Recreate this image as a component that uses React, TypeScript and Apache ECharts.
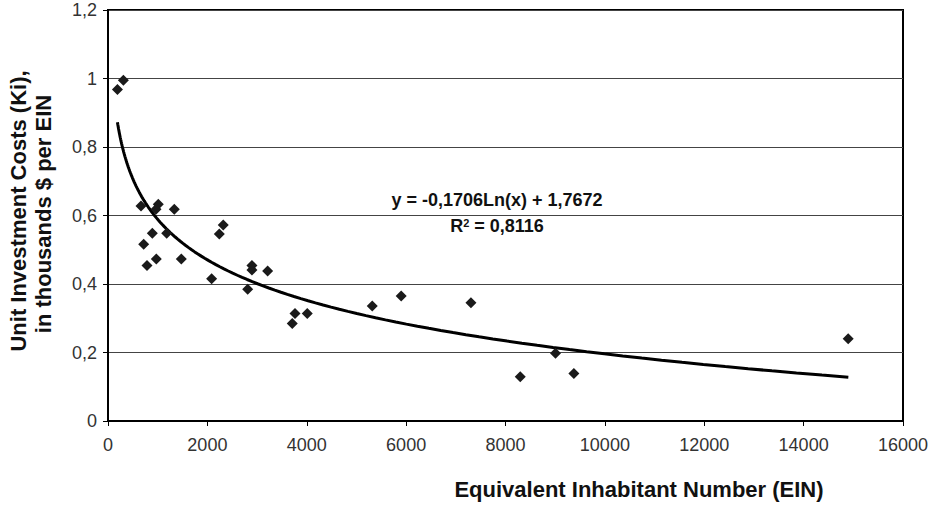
import React, { useEffect, useRef } from "react";
import * as echarts from "echarts";

const einValues = [190, 310, 664, 1012, 966, 1334, 892, 1181, 718, 972, 785, 1475, 2320, 2240, 2086, 2897, 2897, 3213, 2811, 3763, 3708, 4010, 5318, 5901, 7304, 9006, 8297, 9376, 14897];
const costValues = [0.968, 0.995, 0.628, 0.633, 0.618, 0.618, 0.548, 0.548, 0.516, 0.473, 0.454, 0.473, 0.572, 0.546, 0.415, 0.454, 0.441, 0.438, 0.385, 0.314, 0.285, 0.314, 0.336, 0.365, 0.345, 0.198, 0.129, 0.139, 0.240];

// Trend line as printed on the chart: y = -0,1706 Ln(x) + 1,7672
const trendSlope = -0.1706;
const trendIntercept = 1.7672;
const trendStartX = 190;
const trendEndX = 14900;
const trendSteps = 120;

const xTitle = "Equivalent Inhabitant Number (EIN)";
const yTitleLines = ["Unit Investment Costs (Ki),", "in thousands $ per EIN"];
const equationText = "y = -0,1706Ln(x) + 1,7672";

const FONT = "'Liberation Sans', Arial, sans-serif";

export default function App() {
  const ref = useRef<HTMLDivElement>(null);
  useEffect(() => {
    if (!ref.current) return;
    const chart = echarts.init(ref.current, undefined, { renderer: "svg" });
    const points = einValues.map((x, i) => [x, costValues[i]]);
    const trend: number[][] = [];
    for (let i = 0; i <= trendSteps; i++) {
      const x = trendStartX * Math.pow(trendEndX / trendStartX, i / trendSteps);
      trend.push([x, trendSlope * Math.log(x) + trendIntercept]);
    }
    const fmtY = (v: number) => String(Math.round(v * 10) / 10).replace(".", ",");
    const fmtX = (v: number) => String(Math.round(v));
    chart.setOption({
      animation: false,
      backgroundColor: "#fff",
      grid: {
        left: 108,
        right: 37,
        top: 10,
        bottom: 84,
        show: true,
        borderColor: "#000",
        borderWidth: 2,
      },
      xAxis: {
        type: "value",
        min: 0,
        max: 16000,
        interval: 2000,
        axisLine: { show: true, onZero: false, lineStyle: { color: "#000", width: 2 } },
        axisTick: { show: true, length: 5, lineStyle: { color: "#000", width: 1 } },
        axisLabel: { color: "#333", fontSize: 18, fontFamily: FONT, margin: 15, formatter: fmtX },
        splitLine: { show: false },
      },
      yAxis: {
        type: "value",
        min: 0,
        max: 1.2,
        interval: 0.2,
        axisLine: { show: true, onZero: false, lineStyle: { color: "#000", width: 2 } },
        axisTick: { show: true, length: 5, lineStyle: { color: "#000", width: 1 } },
        axisLabel: { color: "#333", fontSize: 18, fontFamily: FONT, margin: 11, formatter: fmtY },
        splitLine: { show: true, lineStyle: { color: "#444", width: 1 } },
      },
      series: [
        {
          type: "line",
          data: trend,
          showSymbol: false,
          symbol: "none",
          smooth: false,
          lineStyle: { color: "#000", width: 3 },
          z: 2,
        },
        {
          type: "scatter",
          data: points,
          symbol: "diamond",
          symbolSize: 11,
          itemStyle: { color: "#1a1a1a", opacity: 1 },
          z: 3,
        },
      ],
      graphic: [
        {
          type: "text",
          x: 497,
          y: 200,
          style: { text: equationText, font: `bold 18px ${FONT}`, fill: "#111", align: "center", verticalAlign: "middle" },
        },
        {
          type: "text",
          x: 497,
          y: 226,
          style: {
            text: "{b|R}{s|2}{b| = 0,8116}",
            align: "center",
            verticalAlign: "middle",
            rich: {
              b: { font: `bold 18px ${FONT}`, fill: "#111", verticalAlign: "bottom" },
              s: { font: `bold 11px ${FONT}`, fill: "#111", verticalAlign: "top", padding: [0, 0, 6, 0] },
            },
          },
        },
        {
          type: "text",
          x: 639,
          y: 489,
          style: { text: xTitle, font: `bold 22px ${FONT}`, fill: "#111", align: "center", verticalAlign: "middle" },
        },
        {
          type: "text",
          x: 18,
          y: 211,
          rotation: Math.PI / 2,
          style: { text: yTitleLines[0], font: `bold 22px ${FONT}`, fill: "#111", align: "center", verticalAlign: "middle" },
        },
        {
          type: "text",
          x: 43,
          y: 214,
          rotation: Math.PI / 2,
          style: { text: yTitleLines[1], font: `bold 22px ${FONT}`, fill: "#111", align: "center", verticalAlign: "middle" },
        },
      ],
    });
    return () => chart.dispose();
  }, []);
  return <div ref={ref} style={{ width: 940, height: 505, position: "absolute", left: 0, top: 0 }} />;
}
